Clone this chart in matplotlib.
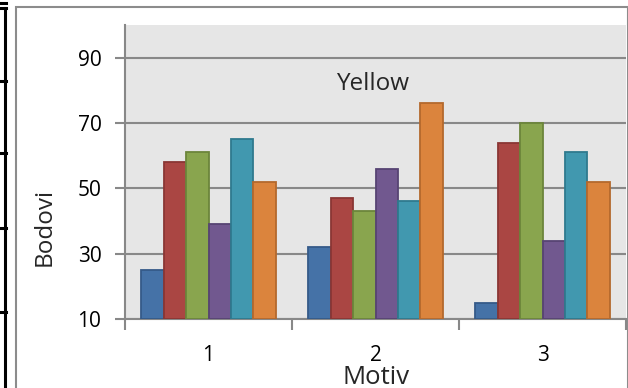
import matplotlib
matplotlib.use("Agg")
import matplotlib.pyplot as plt
from matplotlib.lines import Line2D
from matplotlib.patches import Rectangle
import numpy as np

plt.rcParams['font.family'] = ['Open Sans', 'DejaVu Sans']

categories = ["1", "2", "3"]
series_values = [
    [25, 32, 15],
    [58, 47, 64],
    [61, 43, 70],
    [39, 56, 34],
    [65, 46, 61],
    [52, 76, 52],
]
fill_colors = ["#4572A7", "#AA4643", "#89A54E", "#71588F", "#4198AF", "#DB843D"]
edge_colors = ["#355A88", "#8A3634", "#6C853B", "#574473", "#2F7A8E", "#B4692D"]
y_ticks = [10, 30, 50, 70, 90]
title = "Yellow"
x_label = "Motiv"
y_label = "Bodovi"

W, H = 628, 388
fig = plt.figure(figsize=(W / 100, H / 100), dpi=100)
fig.patch.set_facecolor("white")

# chart outer border
fig.add_artist(Rectangle((15.5 / W, -0.1), (627.5 - 15.5) / W, 1.1 - 7.5 / H,
                         transform=fig.transFigure, fill=False,
                         edgecolor="#8C8C8C", linewidth=1.5))
# table borders at left edge
fig.add_artist(Line2D([4.5 / W, 4.5 / W], [0, 1 - 8 / H], transform=fig.transFigure,
                      color="black", linewidth=2.2))
for yy in [8, 81, 153, 228, 312]:
    fig.add_artist(Line2D([0, 5.5 / W], [1 - yy / H, 1 - yy / H], transform=fig.transFigure,
                          color="black", linewidth=2.2))
fig.add_artist(Line2D([0, 6 / W], [1 - 3 / H, 1 - 3 / H], transform=fig.transFigure,
                      color="black", linewidth=2.2))

left, right, top, bottom = 125, 626, 25, 319
ax = fig.add_axes([left / W, 1 - bottom / H, (right - left) / W, (bottom - top) / H])
ax.set_facecolor("#E6E6E6")

n = len(series_values)
group_w = 0.804
bw = group_w / n
x = np.arange(len(categories))
for i, vals in enumerate(series_values):
    off = -group_w / 2 + bw * (i + 0.5)
    ax.bar(x + off, np.array(vals) - 10, bottom=10, width=bw,
           color=fill_colors[i], edgecolor=edge_colors[i], linewidth=1.3, zorder=3)

ax.set_ylim(10, 100)
ax.set_xlim(-0.5, 2.5)
ax.set_yticks(y_ticks)
ax.set_yticklabels([str(v) for v in y_ticks], fontsize=15, color="black")
ax.yaxis.grid(True, color="#888888", linewidth=1.5, zorder=1)
ax.set_axisbelow(True)

ax.set_xticks([-0.5, 0.5, 1.5, 2.5])
ax.set_xticklabels([])
ax.set_xticks(x, minor=True)
ax.set_xticklabels(categories, minor=True, fontsize=15, color="black")
ax.tick_params(axis="x", which="minor", length=0, pad=19)
ax.tick_params(axis="x", which="major", length=8, width=1.5, color="#888888", direction="out")
ax.tick_params(axis="y", length=7, width=1.5, color="#888888", direction="out", pad=10)

for s in ["top", "right"]:
    ax.spines[s].set_visible(False)
for s in ["left", "bottom"]:
    ax.spines[s].set_color("#888888")
    ax.spines[s].set_linewidth(1.5)

ax.text(0.494, 0.778, title, transform=ax.transAxes, ha="center", va="baseline",
        fontsize=17.5, color="#262626")
fig.text(376 / W, 1 - 377 / H, x_label, ha="center", va="center", fontsize=18.5, color="#262626")
fig.text(45 / W, 1 - 227 / H, y_label, ha="center", va="center", rotation=90,
         fontsize=17.5, color="#262626")

fig.savefig("out.png", dpi=100)
